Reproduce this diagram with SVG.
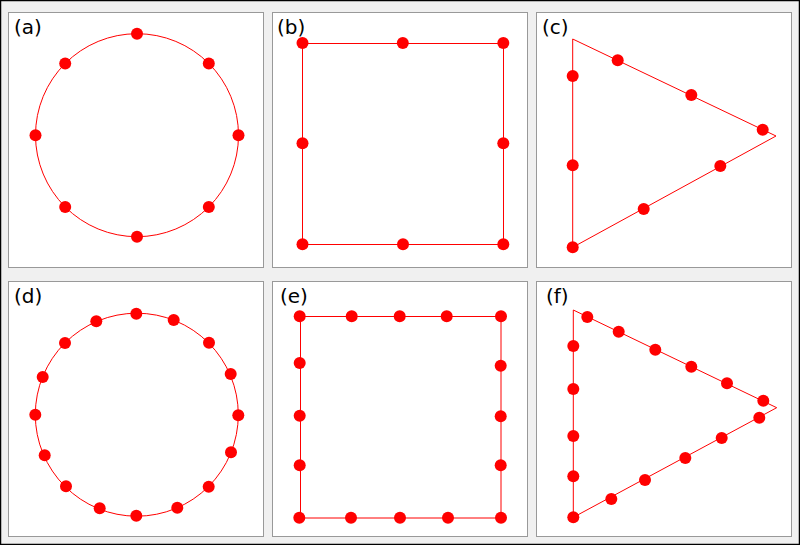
<svg xmlns="http://www.w3.org/2000/svg" width="800" height="545" viewBox="0 0 800 545">
<style>
.panel{fill:#ffffff;stroke:#999999;stroke-width:1}
.shape{fill:none;stroke:#ff0000;stroke-width:1}
.dot{fill:#ff0000}
.lbl{font-family:"DejaVu Sans",sans-serif;font-size:20px;fill:#000000}
</style>
<rect x="0.5" y="0.5" width="799" height="544" fill="#f0f0f0" stroke="#000000" stroke-width="1.5"/>
<g id="panel-a">
<rect class="panel" x="8.5" y="12.5" width="255" height="255"/>
<text class="lbl" x="14" y="34">(a)</text>
<circle class="shape" cx="137" cy="135.2" r="101.5"/>
<g class="dot">
<circle cx="137" cy="33.7" r="6"/><circle cx="208.8" cy="63.4" r="6"/><circle cx="238.5" cy="135.2" r="6"/><circle cx="208.8" cy="207" r="6"/>
<circle cx="137" cy="236.7" r="6"/><circle cx="65.2" cy="207" r="6"/><circle cx="35.5" cy="135.2" r="6"/><circle cx="65.2" cy="63.4" r="6"/>
</g>
</g>
<g id="panel-b">
<rect class="panel" x="272.5" y="12.5" width="255" height="255"/>
<text class="lbl" x="277" y="34">(b)</text>
<rect class="shape" x="302.5" y="43.5" width="201" height="201"/>
<g class="dot">
<circle cx="302.5" cy="43" r="6"/><circle cx="402.8" cy="43" r="6"/><circle cx="503.3" cy="43" r="6"/>
<circle cx="302.5" cy="143.3" r="6"/><circle cx="503.3" cy="143.3" r="6"/>
<circle cx="302.5" cy="244.3" r="6"/><circle cx="403" cy="244.3" r="6"/><circle cx="503.3" cy="244.3" r="6"/>
</g>
</g>
<g id="panel-c">
<rect class="panel" x="536.5" y="12.5" width="255" height="255"/>
<text class="lbl" x="542" y="34">(c)</text>
<polygon class="shape" points="572.7,39 776,136 572.7,247.3"/>
<g class="dot">
<circle cx="572.7" cy="76" r="6"/><circle cx="572.7" cy="165.3" r="6"/><circle cx="572.7" cy="247.3" r="6"/>
<circle cx="617.7" cy="60.3" r="6"/><circle cx="691.3" cy="95" r="6"/><circle cx="762.7" cy="129.7" r="6"/>
<circle cx="720.3" cy="166" r="6"/><circle cx="643.7" cy="209" r="6"/>
</g>
</g>
<g id="panel-d">
<rect class="panel" x="8.5" y="281.5" width="255" height="255"/>
<text class="lbl" x="14" y="303">(d)</text>
<circle class="shape" cx="136.8" cy="414.7" r="101.5"/>
<g class="dot">
<circle cx="136.3" cy="313.7" r="6"/><circle cx="173.7" cy="320" r="6"/><circle cx="209" cy="342.7" r="6"/><circle cx="230.7" cy="374" r="6"/>
<circle cx="238.3" cy="415.3" r="6"/><circle cx="231" cy="452.3" r="6"/><circle cx="208.7" cy="486.7" r="6"/><circle cx="177.3" cy="507.7" r="6"/>
<circle cx="136.3" cy="515.7" r="6"/><circle cx="99.7" cy="508.3" r="6"/><circle cx="66" cy="486.3" r="6"/><circle cx="44.7" cy="455.3" r="6"/>
<circle cx="35.3" cy="414.7" r="6"/><circle cx="42.7" cy="377" r="6"/><circle cx="65" cy="343" r="6"/><circle cx="96.3" cy="321.3" r="6"/>
</g>
</g>
<g id="panel-e">
<rect class="panel" x="272.5" y="281.5" width="255" height="255"/>
<text class="lbl" x="280" y="303">(e)</text>
<rect class="shape" x="300.5" y="316.5" width="200.5" height="201.5"/>
<g class="dot">
<circle cx="299.7" cy="316.3" r="6"/><circle cx="351.7" cy="316.3" r="6"/><circle cx="399.7" cy="316.3" r="6"/><circle cx="446.7" cy="316.3" r="6"/><circle cx="501" cy="316.3" r="6"/>
<circle cx="299.7" cy="363" r="6"/><circle cx="299.7" cy="415.7" r="6"/><circle cx="299.7" cy="465.3" r="6"/>
<circle cx="500.7" cy="365.7" r="6"/><circle cx="500.7" cy="416.3" r="6"/><circle cx="500.7" cy="465.3" r="6"/>
<circle cx="299.3" cy="517.7" r="6"/><circle cx="351" cy="517.7" r="6"/><circle cx="400" cy="517.7" r="6"/><circle cx="448" cy="517.7" r="6"/><circle cx="501" cy="517.7" r="6"/>
</g>
</g>
<g id="panel-f">
<rect class="panel" x="536.5" y="281.5" width="255" height="255"/>
<text class="lbl" x="546" y="303">(f)</text>
<polygon class="shape" points="573.3,310 776.7,407.7 573.3,517.3"/>
<g class="dot">
<circle cx="573.3" cy="346" r="6"/><circle cx="573.3" cy="389" r="6"/><circle cx="573.3" cy="436" r="6"/><circle cx="573.3" cy="476.3" r="6"/><circle cx="573.3" cy="517.3" r="6"/>
<circle cx="587.3" cy="317" r="6"/><circle cx="618.7" cy="331.7" r="6"/><circle cx="655.3" cy="349.7" r="6"/><circle cx="691.3" cy="366.7" r="6"/><circle cx="727" cy="383.3" r="6"/><circle cx="763.3" cy="400.7" r="6"/>
<circle cx="759.3" cy="417.7" r="6"/><circle cx="721.7" cy="438" r="6"/><circle cx="685.3" cy="458" r="6"/><circle cx="645" cy="480" r="6"/><circle cx="611.3" cy="499" r="6"/>
</g>
</g>
</svg>
